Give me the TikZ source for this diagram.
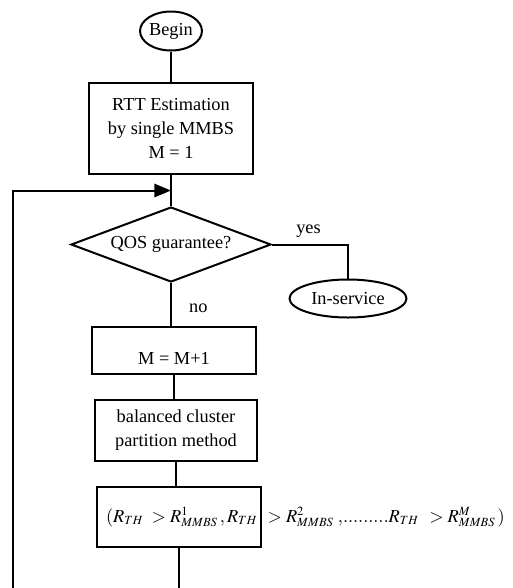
\documentclass[tikz,border=0pt]{standalone}
\usepackage{mathptmx}
\usepackage{fontspec}
\setmainfont{Liberation Serif}
\DeclareMathSizes{11}{11}{7.5}{5.5}
\usetikzlibrary{arrows.meta,shapes.geometric,calc}

\begin{document}
\begin{tikzpicture}[
  x=0.6pt, y=-0.6pt,
  font=\fontsize{11}{14.5}\selectfont,
  line width=1.2pt,
  block/.style={draw, align=center, inner sep=0pt},
  term/.style={draw, ellipse, inner sep=0pt},
  decision/.style={draw, diamond, aspect=2.67, inner sep=0pt, minimum width=120pt, minimum height=45pt},
  arrow/.style={-{Triangle[length=10pt,width=8pt]}}
]
\useasboundingbox (0,0) rectangle (512,588);
\node[term, minimum width=35.4pt, minimum height=23.4pt] (begin) at (171,31) {Begin};
\node[block, minimum width=98.4pt, minimum height=54.6pt] (rtt) at (171,128.5) {RTT Estimation\\by single MMBS\\M = 1};
\node[decision] (qos) at (171,244.5) {QOS guarantee?};
\node[term, minimum width=70.2pt, minimum height=22.8pt] (inserv) at (348,298.5) {In-service};
\node[block, minimum width=99pt, minimum height=28.2pt, text height=17pt, text depth=0pt] (inc) at (174,350.5) {M = M+1};
\node[block, minimum width=97.8pt, minimum height=36.6pt] (part) at (176,430.5) {balanced cluster\\partition method};
\node[block, minimum width=99pt, minimum height=36pt] (cond) at (179,517) {};
\node[anchor=west, inner sep=0pt] (ineq) at (105,517) {$(R_{TH}\; > R^{1}_{MMBS}\,, R_{TH}\;\, > R^{2}_{MMBS}\;,\!.........R_{TH}\;\, > R^{M}_{MMBS}\,)$};
\coordinate (join) at ($(rtt.south)!0.5!(qos.north)$);
\coordinate (loopend) at (13,588);
\coordinate (flowend) at (cond.south |- loopend);

\draw (begin) -- (rtt);
\draw (rtt) -- (qos);
\draw (qos.east) -| (inserv.north) node[pos=0.24, above] {yes};
\draw (qos.south) -- (qos.south |- inc.north) node[pos=0.58, right, xshift=7pt] {no};
\draw (inc.south) -- (inc.south |- part.north);
\draw (part.south) -- (part.south |- cond.north);
\draw (cond.south) -- (flowend);
\draw[arrow] (loopend) |- (join);
\end{tikzpicture}
\end{document}
